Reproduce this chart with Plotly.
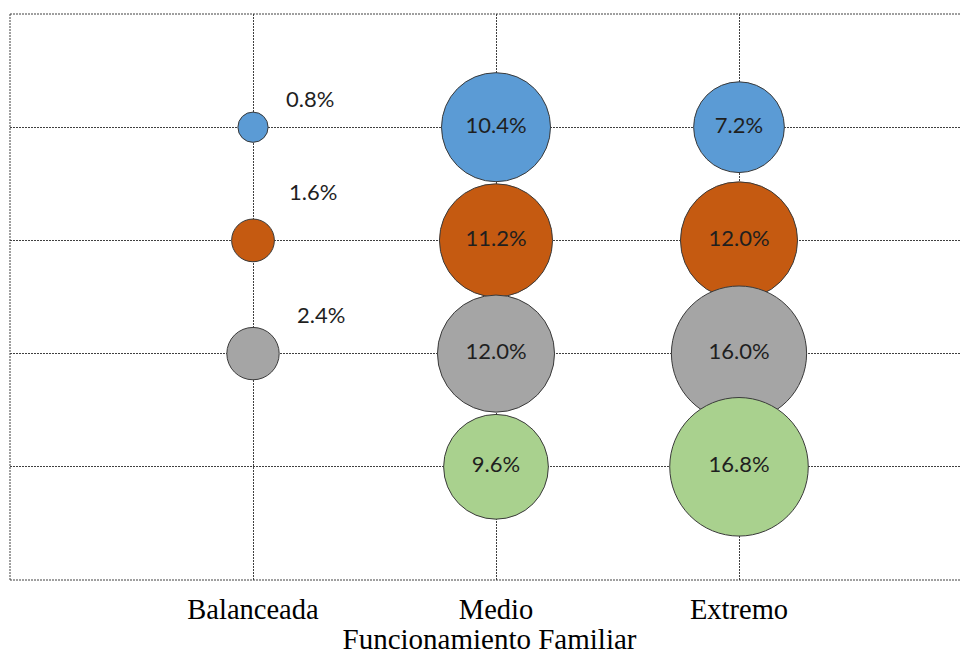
import plotly.graph_objects as go

categories = ["Balanceada", "Medio", "Extremo"]
cat_pos = [1, 2, 3]
row_levels = [4, 3, 2, 1]
series_names = ["Nivel 1", "Nivel 2", "Nivel 3", "Nivel 4"]
values_nivel1 = [0.8, 10.4, 7.2]
values_nivel2 = [1.6, 11.2, 12.0]
values_nivel3 = [2.4, 12.0, 16.0]
values_nivel4 = [None, 9.6, 16.8]
colors = ["#5B9BD5", "#C55A11", "#A5A5A5", "#A9D18E"]
outside_label_shift = [(57, 29), (60, 49), (68, 39), (60, 40)]

all_values = [values_nivel1, values_nivel2, values_nivel3, values_nivel4]
K = 33.8  # px diameter per sqrt(percent)
label_font = dict(family="Lato, Open Sans, sans-serif", size=22, color="#1f1f1f")

fig = go.Figure()
annotations = []
for name, vals, row, col, shift in zip(series_names, all_values, row_levels, colors, outside_label_shift):
    xs, ys, sizes, texts = [], [], [], []
    for xp, v in zip(cat_pos, vals):
        if v is None:
            continue
        d = K * v ** 0.5
        xs.append(xp)
        ys.append(row)
        sizes.append(d)
        if d < 70:
            texts.append("")
            annotations.append(dict(x=xp, y=row, xref="x", yref="y", text=f"{v:.1f}%",
                                    showarrow=False, xshift=shift[0], yshift=shift[1],
                                    font=label_font))
        else:
            texts.append(f"{v:.1f}%")
    fig.add_trace(go.Scatter(
        x=xs, y=ys, mode="markers+text", name=name, text=texts,
        textposition="middle center", textfont=label_font,
        marker=dict(size=sizes, sizemode="diameter", color=col, opacity=1,
                    line=dict(color="#3a3a3a", width=1)),
        hoverinfo="skip", showlegend=False, cliponaxis=False,
    ))

grid_dash = "2px,1px"
grid_col = "#404040"
shapes = [
    dict(type="line", xref="paper", yref="paper", x0=0, x1=1, y0=1, y1=1,
         line=dict(color=grid_col, width=1, dash=grid_dash), layer="below"),
    dict(type="line", xref="paper", yref="paper", x0=0, x1=1, y0=0, y1=0,
         line=dict(color=grid_col, width=1, dash=grid_dash), layer="below"),
    dict(type="line", xref="paper", yref="paper", x0=0, x1=0, y0=0, y1=1,
         line=dict(color=grid_col, width=1, dash=grid_dash), layer="below"),
]

serif = "Liberation Serif, Times New Roman, serif"
fig.update_layout(
    width=961, height=647,
    margin=dict(l=2, r=0, t=6, b=75),
    paper_bgcolor="white", plot_bgcolor="white",
    shapes=shapes, annotations=annotations,
    xaxis=dict(range=[0, 959 / 243], tickvals=cat_pos, ticktext=categories,
               showgrid=True, gridcolor=grid_col, gridwidth=1, griddash=grid_dash,
               zeroline=False, showline=False, ticks="", ticklabelstandoff=9,
               tickfont=dict(family=serif, size=28.5, color="black"),
               title=dict(text="Funcionamiento Familiar", standoff=10,
                          font=dict(family=serif, size=29, color="black"))),
    yaxis=dict(range=[0, 5], tickvals=row_levels, showticklabels=False,
               showgrid=True, gridcolor=grid_col, gridwidth=1, griddash=grid_dash,
               zeroline=False, showline=False, ticks=""),
)

fig.write_html("out.html")
